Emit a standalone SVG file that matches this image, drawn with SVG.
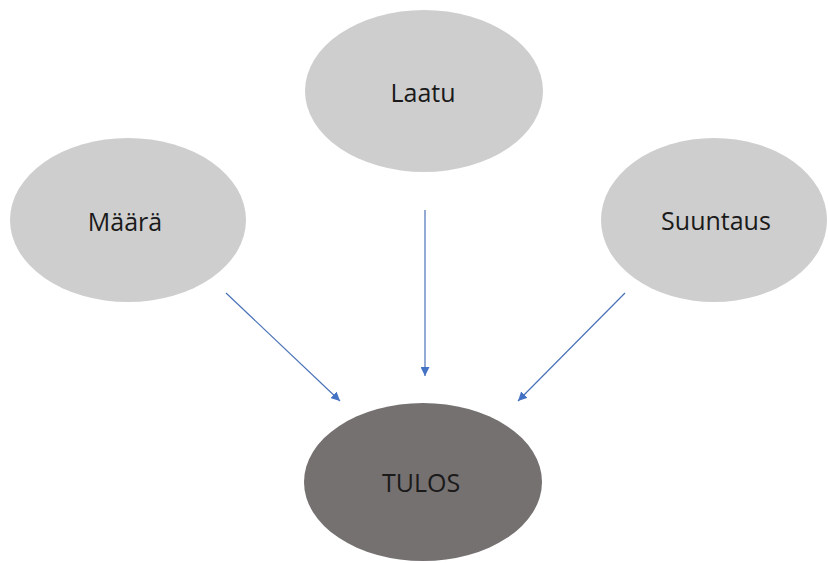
<svg xmlns="http://www.w3.org/2000/svg" width="828" height="563" viewBox="0 0 828 563">
<style>
.n{fill:#cfcece}
.r{fill:#767171}
.t{font-family:"Open Sans","Liberation Sans",sans-serif;font-size:25px;fill:#1a1a1a;text-anchor:middle}
.c{stroke:#4a72b8;stroke-width:1.2;fill:none;marker-end:url(#ah)}
</style>
<defs>
<marker id="ah" viewBox="0 0 10 10" refX="10" refY="5" markerWidth="9" markerHeight="9" markerUnits="userSpaceOnUse" orient="auto">
<path d="M0,0 L10,5 L0,10 z" fill="#4472c4"/>
</marker>
</defs>
<rect width="828" height="563" fill="#ffffff"/>
<g id="laatu"><ellipse class="n" cx="424" cy="91" rx="119" ry="81"/><text class="t" x="423" y="102">Laatu</text></g>
<g id="maara"><ellipse class="n" cx="128" cy="220" rx="118" ry="82"/><text class="t" x="125" y="231">Määrä</text></g>
<g id="suuntaus"><ellipse class="n" cx="714" cy="220" rx="113" ry="82"/><text class="t" x="716" y="230">Suuntaus</text></g>
<g id="tulos"><ellipse class="r" cx="423" cy="482" rx="119" ry="79"/><text class="t" x="421" y="492">TULOS</text></g>
<g id="connectors">
<line class="c" x1="226" y1="293" x2="340" y2="401"/>
<line class="c" x1="425" y1="210" x2="425" y2="376"/>
<line class="c" x1="625" y1="293" x2="518" y2="401"/>
</g>
</svg>
